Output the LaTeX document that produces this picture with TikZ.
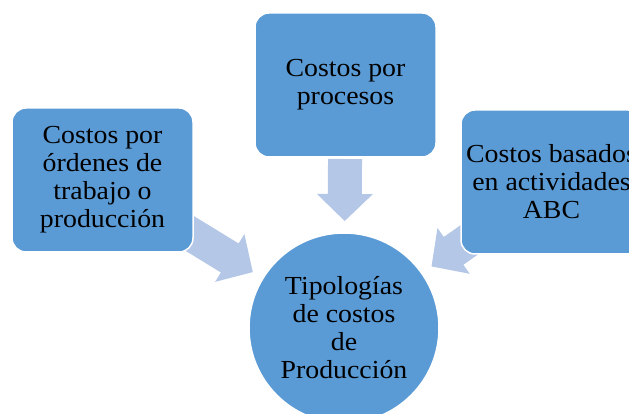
\documentclass[tikz,border=0pt]{standalone}
\usepackage{fontspec}
\setmainfont[FakeStretch=1.07]{Liberation Serif}
\usetikzlibrary{calc,backgrounds}
\definecolor{boxblue}{RGB}{91,155,213}
\definecolor{arrowblue}{RGB}{180,199,231}
\newcommand\blockarrow[3]{% name, tail, tip
  \coordinate (#1b) at ($(#3)!27pt!(#2)$);
  \fill[arrowblue] ($(#2)!17pt!90:(#3)$) -- ($(#1b)!17pt!90:(#3)$) -- ($(#1b)!28pt!90:(#3)$) -- (#3)
    -- ($(#1b)!28pt!-90:(#3)$) -- ($(#1b)!17pt!-90:(#3)$) -- ($(#2)!17pt!-90:(#3)$) -- cycle;}
\tikzset{
  box/.style={rectangle, rounded corners=14pt, fill=boxblue, draw=white, line width=1.5pt,
    minimum width=181pt, minimum height=144pt, inner sep=0pt, align=center,
    font=\fontsize{26}{28}\selectfont},
  hub/.style={circle, fill=boxblue, draw=white, line width=1.5pt, minimum size=190pt,
    inner sep=0pt, align=center, font=\fontsize{26}{28}\selectfont}
}
\begin{document}
\begin{tikzpicture}[x=1pt,y=1pt]
\useasboundingbox (0,0) rectangle (629,414);
\clip (0,0) rectangle (629,414);
\node[box] (lbox) at (102.5,234) {Costos por\\órdenes de\\trabajo o\\producción};
\node[box] (tbox) at (345.5,329) {Costos por\\procesos};
\node[box] (rbox) at (551.5,232) {Costos basados\\en actividades\\ABC};
\node[hub] (circ) at (344,86) {Tipologías\\de costos\\de\\Producción};
\begin{scope}[on background layer]
  \coordinate (ltip) at ($(circ.center)!107pt!(lbox.center)$);
  \coordinate (ttip) at ($(circ.center)!107pt!(tbox.center)$);
  \coordinate (rtip) at ($(circ.center)!107pt!(rbox.center)$);
  \coordinate (ttail) at ($(circ.center)!169pt!(tbox.center)$);
  \blockarrow{la}{lbox.center}{ltip}
  \blockarrow{ta}{ttail}{ttip}
  \blockarrow{ra}{rbox.center}{rtip}
\end{scope}
\end{tikzpicture}
\end{document}
